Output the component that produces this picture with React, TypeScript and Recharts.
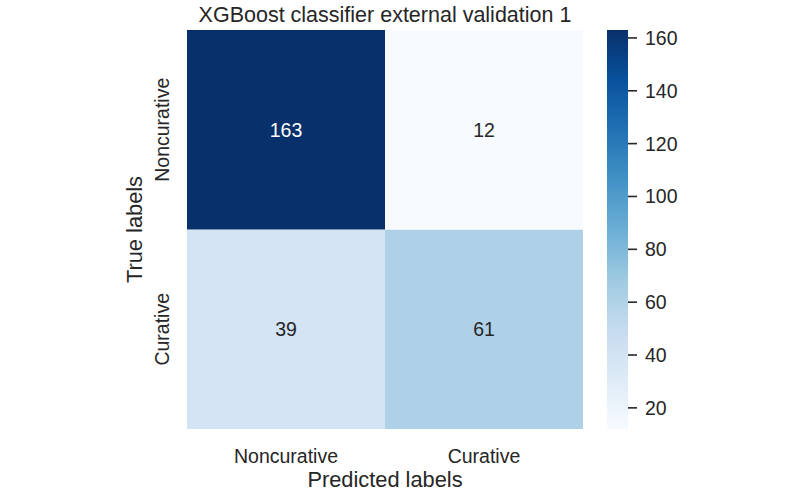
import { BarChart, Bar, XAxis, YAxis, Cell, LabelList } from "recharts";

const predictedLabels = ["Noncurative", "Curative"];
const trueLabels = ["Noncurative", "Curative"];
// rows = true label, cols = predicted label
const counts = [
    [163, 12],
    [39, 61],
];
const colorbarTicks = [20, 40, 60, 80, 100, 120, 140, 160];

const FONT = "'Liberation Sans', Arial, Helvetica, sans-serif";
const TEXT = "#262626";

// matplotlib "Blues"
const BLUES = ["#f7fbff", "#deebf7", "#c6dbef", "#9ecae1", "#6baed6", "#4292c6", "#2171b5", "#08519c", "#08306b"];

const hexToRgb = (h: string) => [1, 3, 5].map(i => parseInt(h.slice(i, i + 2), 16));

const blues = (t: number) => {
    const c = Math.max(0, Math.min(1, t)) * (BLUES.length - 1);
    const i = Math.min(Math.floor(c), BLUES.length - 2);
    const f = c - i;
    const a = hexToRgb(BLUES[i]);
    const b = hexToRgb(BLUES[i + 1]);
    const rgb = a.map((v, k) => Math.round(v + (b[k] - v) * f));
    return `rgb(${rgb.join(",")})`;
};

const flat = counts.flat();
const vmin = Math.min(...flat);
const vmax = Math.max(...flat);
const norm = (v: number) => (v - vmin) / (vmax - vmin);

// one stacked column per predicted label: bottom cell = true "Curative", top cell = true "Noncurative"
const data = predictedLabels.map((p, j) => ({
    pred: p,
    bottomCell: 1,
    topCell: 1,
    bottomCount: counts[1][j],
    topCount: counts[0][j],
}));

const colorbarData = [{ name: "cb", range: [vmin, vmax] }];

const CountLabel = (props: any) => {
    const { x, y, width, height, value } = props;
    const fill = norm(value) > 0.6 ? "#ffffff" : TEXT;
    return (
        <text
            x={x + width / 2}
            y={y + height / 2}
            textAnchor="middle"
            dominantBaseline="central"
            fontSize={19.5}
            fontFamily={FONT}
            fill={fill}
        >
            {value}
        </text>
    );
};

const XTick = (props: any) => {
    const { x, y, payload } = props;
    return (
        <text x={x} y={y + 26} textAnchor="middle" fontSize={19.5} fontFamily={FONT} fill={TEXT}>
            {payload.value}
        </text>
    );
};

const YTick = (props: any) => {
    const { x, y, payload } = props;
    const label = payload.value > 1 ? trueLabels[0] : trueLabels[1];
    const tx = x - 10;
    return (
        <text
            x={tx}
            y={y}
            textAnchor="middle"
            transform={`rotate(-90, ${tx}, ${y})`}
            fontSize={19.5}
            fontFamily={FONT}
            fill={TEXT}
        >
            {label}
        </text>
    );
};

const App = () => {
    return (
        <div style={{ position: "absolute", left: 0, top: 0, width: 800, height: 496, background: "#fff" }}>
            <div
                style={{
                    position: "absolute",
                    left: 187,
                    width: 396,
                    top: 3,
                    textAlign: "center",
                    fontFamily: FONT,
                    fontSize: 21.5,
                    color: TEXT,
                    whiteSpace: "nowrap",
                }}
            >
                XGBoost classifier external validation 1
            </div>

            <div style={{ position: "absolute", left: 0, top: 0 }}>
                <BarChart
                    width={800}
                    height={496}
                    data={data}
                    barCategoryGap={0}
                    margin={{ top: 30, right: 217, bottom: 17, left: 117 }}
                >
                    <XAxis
                        dataKey="pred"
                        axisLine={false}
                        tickLine={false}
                        height={50}
                        tick={<XTick />}
                        label={{
                            value: "Predicted labels",
                            position: "insideBottom",
                            offset: -8,
                            fontSize: 21.8,
                            fontFamily: FONT,
                            fill: TEXT,
                        }}
                    />
                    <YAxis
                        type="number"
                        domain={[0, 2]}
                        ticks={[0.5, 1.5]}
                        axisLine={false}
                        tickLine={false}
                        width={70}
                        tick={<YTick />}
                        label={{
                            value: "True labels",
                            angle: -90,
                            position: "insideLeft",
                            offset: 17,
                            style: { textAnchor: "middle" },
                            fontSize: 21.8,
                            fontFamily: FONT,
                            fill: TEXT,
                        }}
                    />
                    <Bar dataKey="bottomCell" stackId="m" isAnimationActive={false}>
                        {data.map((d, i) => (
                            <Cell key={`b${i}`} fill={blues(norm(d.bottomCount))} />
                        ))}
                        <LabelList dataKey="bottomCount" content={<CountLabel />} />
                    </Bar>
                    <Bar dataKey="topCell" stackId="m" isAnimationActive={false}>
                        {data.map((d, i) => (
                            <Cell key={`t${i}`} fill={blues(norm(d.topCount))} />
                        ))}
                        <LabelList dataKey="topCount" content={<CountLabel />} />
                    </Bar>
                </BarChart>
            </div>

            {/* colorbar */}
            <div style={{ position: "absolute", left: 600, top: 0 }}>
                <BarChart
                    width={110}
                    height={496}
                    data={colorbarData}
                    barCategoryGap={0}
                    margin={{ top: 30, right: 10, bottom: 67, left: 7 }}
                >
                    <defs>
                        <linearGradient id="cbGrad" x1="0" y1="1" x2="0" y2="0">
                            {BLUES.map((c, i) => (
                                <stop key={c} offset={i / (BLUES.length - 1)} stopColor={c} />
                            ))}
                        </linearGradient>
                    </defs>
                    <XAxis dataKey="name" hide />
                    <YAxis
                        orientation="right"
                        type="number"
                        domain={[vmin, vmax]}
                        ticks={colorbarTicks}
                        axisLine={false}
                        tickLine={{ stroke: TEXT, strokeWidth: 1.6 }}
                        tickSize={9}
                        tickMargin={8}
                        width={72}
                        tick={{ fontSize: 19.5, fontFamily: FONT, fill: TEXT }}
                        allowDataOverflow
                    />
                    <Bar dataKey="range" fill="url(#cbGrad)" isAnimationActive={false} />
                </BarChart>
            </div>
        </div>
    );
};

export default App;
